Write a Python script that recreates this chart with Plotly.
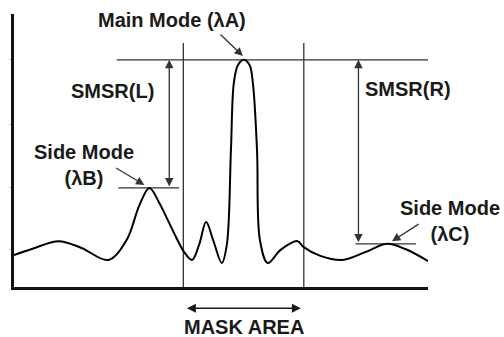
import plotly.graph_objects as go

# Spectrum trace: relative wavelength (0-100) and relative level (0-100)
wavelength = [0, 4.3, 10.8, 16.3, 22.8, 27.2, 30.3, 32.7, 35.1, 37.5, 41.1, 43.0,
              44.7, 46.4, 48.1, 50.2, 51.4, 52.4, 53.1, 54.1, 55.5, 56.9, 57.7,
              58.7, 59.4, 61.3, 64.4, 68.5, 69.9, 74.0, 79.3, 84.9, 90.1, 94.5, 100]
level = [11.7, 13.9, 16.8, 14.3, 9.9, 17.2, 30.0, 36.3, 30.8, 23.4, 12.8, 9.9,
         15.4, 23.8, 17.2, 8.8, 15.4, 50.2, 74.7, 81.3, 83.2, 81.3, 74.7,
         50.2, 17.2, 8.8, 13.6, 16.8, 14.7, 11.4, 9.9, 12.8, 15.8, 13.9, 9.5]

# Mode positions (wavelength) and mask area limits
main_mode_wl = 55.5
side_b_wl = 32.7
side_c_wl = 90.1
mask_left, mask_right = 40.9, 70.0

peak_a = level[wavelength.index(main_mode_wl)]
peak_b = level[wavelength.index(side_b_wl)]
peak_c = level[wavelength.index(side_c_wl)]

INK = "#1a1a1a"
LINE = "#333333"
FONT = dict(family="Liberation Sans, Arial, sans-serif", size=20, color=INK)

fig = go.Figure()
fig.add_trace(go.Scatter(
    x=wavelength, y=level, mode="lines",
    line=dict(color="#000000", width=2, shape="spline", smoothing=1.0),
    hoverinfo="skip", showlegend=False,
))

shapes = [
    # main-mode reference level
    dict(type="line", x0=24.8, x1=100, y0=peak_a, y1=peak_a),
    # mask area boundaries
    dict(type="line", x0=mask_left, x1=mask_left, y0=0, y1=89.4),
    dict(type="line", x0=mask_right, x1=mask_right, y0=0, y1=89.4),
    # side-mode levels
    dict(type="line", x0=25.2, x1=39.9, y0=peak_b, y1=peak_b),
    dict(type="line", x0=82.5, x1=97.1, y0=peak_c, y1=peak_c),
]
for s in shapes:
    s.update(xref="x", yref="y", line=dict(color=LINE, width=1.3), layer="below")

arrow_common = dict(xref="x", yref="y", axref="x", ayref="y", text="",
                    showarrow=True, arrowhead=2, arrowsize=1.3, arrowwidth=1.3,
                    arrowcolor=LINE, standoff=0, startstandoff=0)

annotations = [
    # SMSR(L) and SMSR(R) double arrows
    dict(x=37.5, y=peak_a, ax=37.5, ay=peak_b, arrowside="end+start", **arrow_common),
    dict(x=83.2, y=peak_a, ax=83.2, ay=peak_c, arrowside="end+start", **arrow_common),
    # pointers to the modes
    dict(x=55.3, y=84.6, ax=49.5, ay=93.0, **arrow_common),
    dict(x=31.5, y=37.4, ax=24.3, ay=43.9, **arrow_common),
    dict(x=91.3, y=16.8, ax=98.1, ay=23.4, **arrow_common),
]

labels = [
    dict(x=0.382, y=0.978, text="<b>Main Mode (λA)</b>"),
    dict(x=0.238, y=0.718, text="<b>SMSR(L)</b>"),
    dict(x=0.952, y=0.725, text="<b>SMSR(R)</b>"),
    dict(x=0.168, y=0.447, text="<b>Side Mode<br>(λB)</b>"),
    dict(x=1.053, y=0.240, text="<b>Side Mode<br>(λC)</b>"),
]
for lb in labels:
    annotations.append(dict(xref="paper", yref="paper", showarrow=False, font=FONT,
                            xanchor="center", yanchor="middle", **lb))

# mask area indicator below the axis
annotations.append(dict(xref="x", yref="paper", axref="x", ayref="pixel", text="",
                        x=mask_right - 0.7, y=-0.078, ax=mask_left + 0.5, ay=0,
                        showarrow=True, arrowhead=2, arrowsize=1.2, arrowwidth=1.5,
                        arrowcolor=INK, arrowside="end+start",
                        standoff=0, startstandoff=0))
annotations.append(dict(xref="x", yref="paper", x=(mask_left + mask_right) / 2,
                        y=-0.146, text="<b>MASK AREA</b>", showarrow=False,
                        font=FONT, xanchor="center", yanchor="middle"))

fig.update_layout(
    width=504, height=337,
    margin=dict(l=12, r=76, t=14, b=50),
    paper_bgcolor="white", plot_bgcolor="white",
    shapes=shapes, annotations=annotations,
    xaxis=dict(range=[0, 100], showgrid=False, zeroline=False, showticklabels=False,
               ticks="", showline=True, linecolor="#111111", linewidth=2.5),
    yaxis=dict(range=[0, 100], showgrid=False, zeroline=False, showticklabels=False,
               tickvals=[13.6, 36.6, 59.7, 83.2], ticks="outside", ticklen=2,
               tickcolor="#c8c8c8", tickwidth=1,
               showline=True, linecolor="#111111", linewidth=2.5),
)

fig.write_html("out.html")
